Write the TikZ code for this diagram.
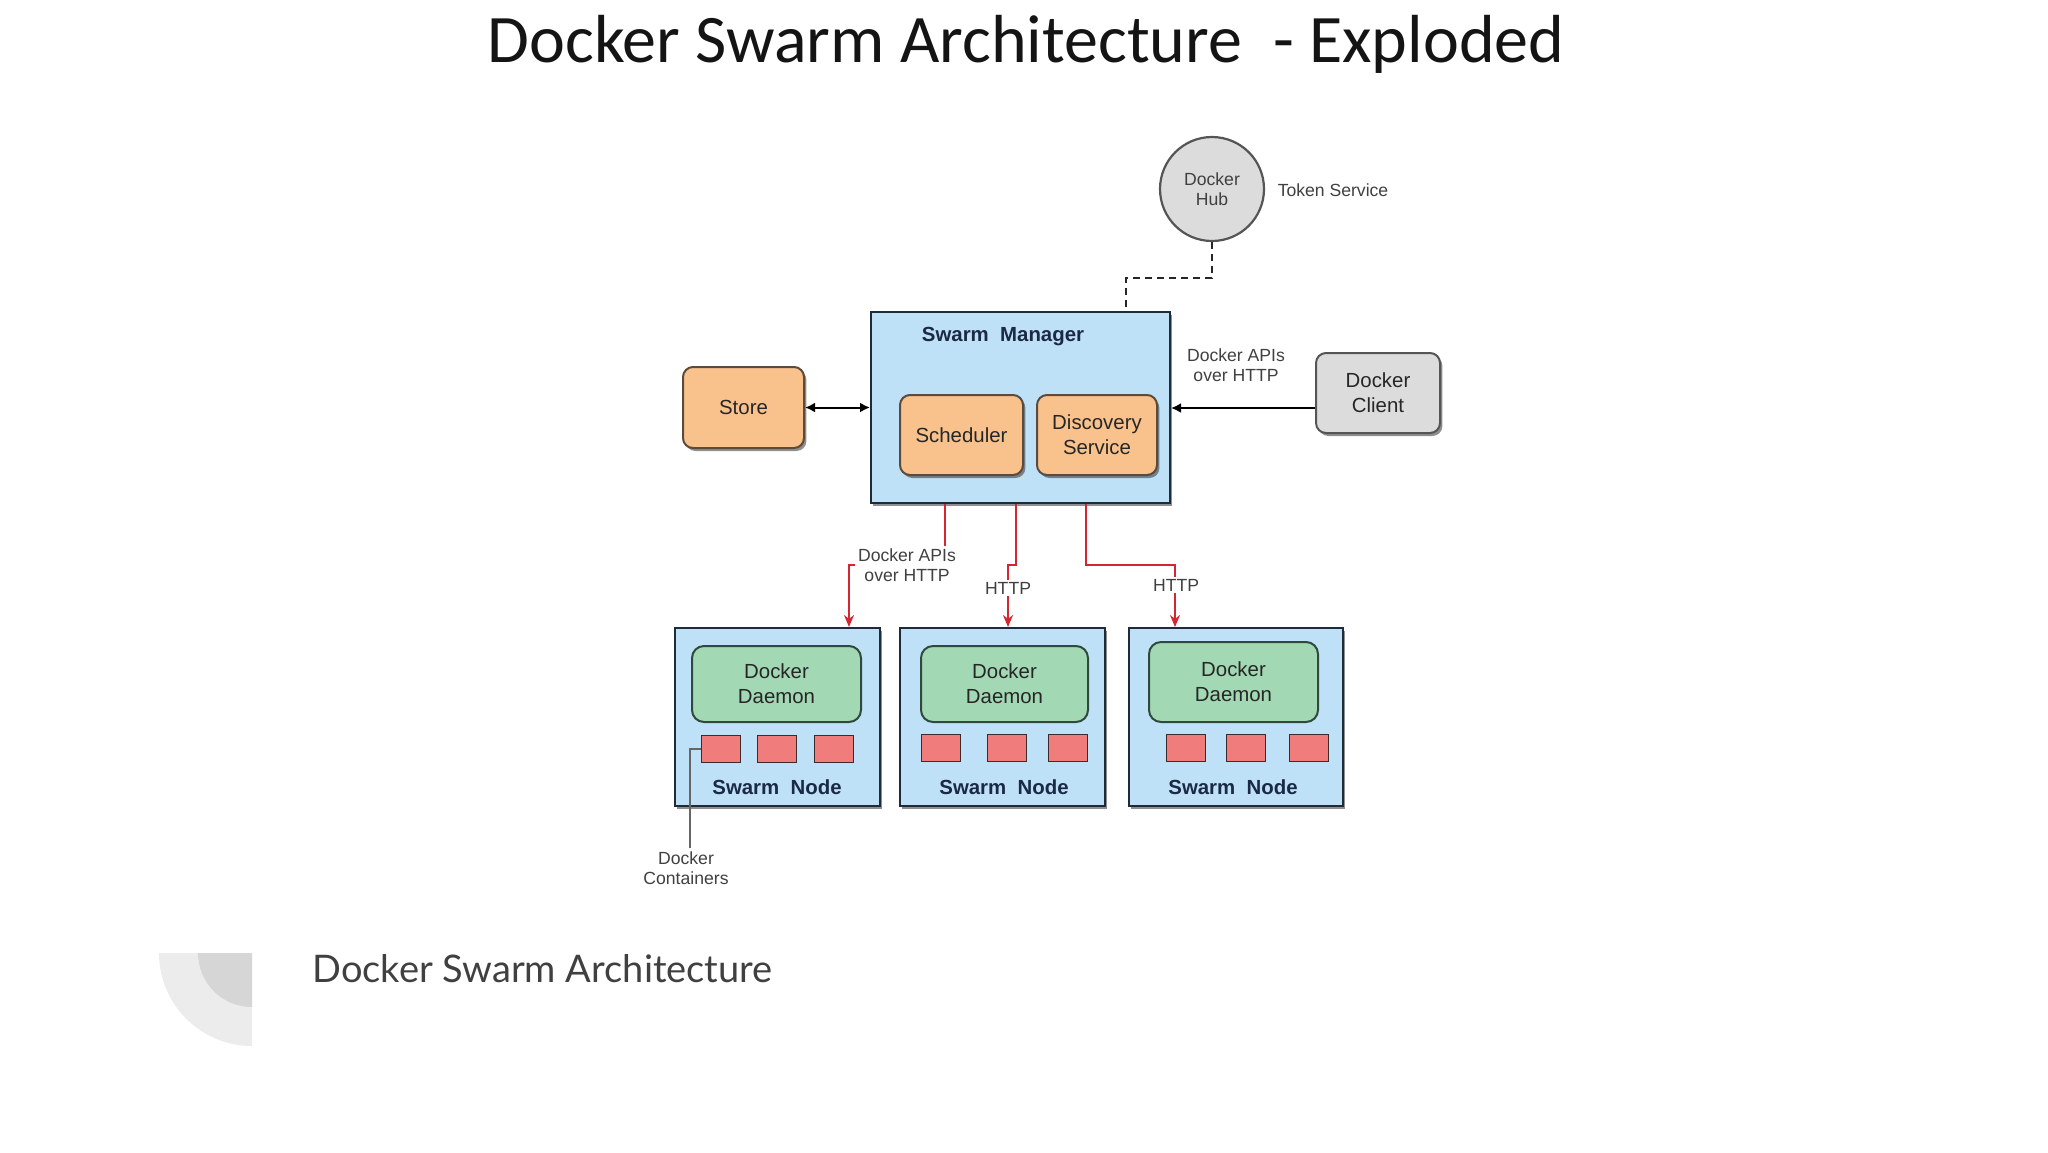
\documentclass[tikz,border=0pt]{standalone}
\usepackage{fontspec}
\setmainfont{Liberation Sans}
\newfontfamily\titlefont{Carlito}
\newfontfamily\capfont{Lato}
\usetikzlibrary{arrows.meta,shadows,calc}
\definecolor{skyfill}{HTML}{BFE1F7}
\definecolor{navyb}{HTML}{1E2B38}
\definecolor{navytxt}{HTML}{1B2A44}
\definecolor{orangef}{HTML}{F9C28D}
\definecolor{brownb}{HTML}{5C4A3A}
\definecolor{greenf}{HTML}{A3D8B4}
\definecolor{greenb}{HTML}{2F4A3C}
\definecolor{redf}{HTML}{F07C7C}
\definecolor{redb}{HTML}{3B2B2B}
\definecolor{greyf}{HTML}{DCDCDC}
\definecolor{greyb}{HTML}{555555}
\definecolor{redline}{HTML}{D42630}
\definecolor{capgray}{HTML}{404040}
\definecolor{decoouter}{HTML}{ECECEC}
\definecolor{decoinner}{HTML}{D6D6D6}
\begin{document}
\begin{tikzpicture}[x=0.5pt,y=-0.5pt,
  boxtext/.style={font=\fontsize{10.2}{12.5}\selectfont, text=black!85, align=center},
  lbl/.style={font=\fontsize{8.8}{10}\selectfont, text=black!75, align=center, inner sep=1.5pt},
  shad/.style={drop shadow={shadow xshift=1.2pt,shadow yshift=-1.5pt,fill=black!80,opacity=0.55}},
  bluebox/.style={draw=navyb, fill=skyfill, line width=1pt, inner sep=0pt, shad},
  orangebox/.style={rounded corners=5pt, draw=brownb, fill=orangef, line width=1pt, inner sep=0pt, boxtext, shad},
  greenbox/.style={rounded corners=6pt, draw=greenb, fill=greenf, line width=1pt, inner sep=0pt, boxtext, minimum height=38pt},
  greybox/.style={rounded corners=5pt, draw=greyb, fill=greyf, line width=1pt, inner sep=0pt, boxtext, shad},
  cont/.style={draw=redb, fill=redf, line width=0.9pt, minimum width=19.5pt, minimum height=13.5pt, inner sep=0pt},
  nodelbl/.style={font=\fontsize{10.2}{12.5}\selectfont\bfseries, text=navytxt, inner sep=0pt},
  redarrow/.style={draw=redline, line width=1pt, -{Stealth[length=6pt,width=5pt]}},
  blackarrow/.style={draw=black, line width=1pt},
  hubdash/.style={draw=black!85, line width=1pt, dash pattern=on 3.5pt off 2.5pt}
]
\useasboundingbox (0,0) rectangle (2048,1152);

% title
\node[anchor=base, font=\titlefont\fontsize{34}{36}\selectfont, text=black!92, inner sep=0pt] (title) at (1026,62) {Docker Swarm Architecture~ - Exploded};

% manager
\node[bluebox, minimum width=149.5pt, minimum height=95.5pt] (mgr) at (1020.5,407.5) {};
\node[nodelbl] (mgrlbl) at (1003,337) {Swarm~ Manager};
\node[orangebox, minimum width=61.5pt, minimum height=40pt] (sched) at (961.5,435) {Scheduler};
\node[orangebox, minimum width=60pt, minimum height=40pt] (disc) at (1097,435) {Discovery\\Service};

% store, client, hub
\node[orangebox, minimum width=60.5pt, minimum height=40.5pt] (store) at (743.5,407.5) {Store};
\node[greybox, minimum width=62pt, minimum height=40pt] (client) at (1378,393) {Docker\\Client};
\node[circle, draw=greyb, fill=greyf, line width=1.1pt, minimum size=52pt, inner sep=0pt, lbl] (hub) at (1212,189) {Docker\\Hub};
\node[lbl] (token) at (1333,190) {Token Service};
\node[lbl] (apis) at (1236,365) {Docker APIs\\over HTTP};

% swarm nodes
\node[bluebox, minimum width=102.5pt, minimum height=89pt] (n1) at (777.5,717) {};
\node[bluebox, minimum width=102.5pt, minimum height=89pt] (n2) at (1002.5,717) {};
\node[bluebox, minimum width=107pt, minimum height=89pt] (n3) at (1236,717) {};

\node[greenbox, minimum width=84.5pt] (d1) at (776.5,684) {Docker\\Daemon};
\node[greenbox, minimum width=83.5pt] (d2) at (1004.5,684) {Docker\\Daemon};
\node[greenbox, minimum width=84.5pt, minimum height=40pt] (d3) at (1233.5,682) {Docker\\Daemon};

\node[cont] (c11) at (721,749) {};
\node[cont] (c12) at (777,749) {};
\node[cont] (c13) at (834,749) {};
\node[cont] (c21) at (941,748) {};
\node[cont] (c22) at (1007,748) {};
\node[cont] (c23) at (1068,748) {};
\node[cont] (c31) at (1186,748) {};
\node[cont] (c32) at (1246,748) {};
\node[cont] (c33) at (1309,748) {};

\node[nodelbl] (s1) at (777,787) {Swarm~ Node};
\node[nodelbl] (s2) at (1004,787) {Swarm~ Node};
\node[nodelbl] (s3) at (1233,787) {Swarm~ Node};

% connectors
\draw[hubdash] (hub.south) -- ++(0,36) -| ([xshift=128pt]mgr.north west);
\draw[blackarrow, {Latex[length=5pt,width=5pt]}-{Latex[length=5pt,width=5pt]}] (store.east) -- (store.east -| mgr.west);
\coordinate (cw) at ($(client.west)+(0,15)$);
\draw[blackarrow, -{Latex[length=5pt,width=5pt]}] (cw) -- (cw -| mgr.east);

\draw[redarrow] ([xshift=37.5pt]mgr.south west) -- ++(0,61) -| ([xshift=-16pt]n1.north east);
\draw[redarrow] ([xshift=73pt]mgr.south west) -- ++(0,61) -| ([xshift=2.75pt]n2.north);
\draw[redarrow] ([xshift=108pt]mgr.south west) -- ++(0,61) -| ([xshift=23.5pt]n3.north west);

\node[lbl, fill=white] (l1) at (907,565) {Docker APIs\\over HTTP};
\node[lbl, fill=white, inner sep=1pt] (l2) at (1008,588) {HTTP};
\node[lbl, fill=white, inner sep=1pt] (l3) at (1176,585) {HTTP};

\node[lbl] (dc) at (686,868) {Docker\\Containers};
\draw[draw=black!60, line width=0.6pt] (c11.west) -| ([xshift=2pt]dc.north);

% caption decoration
\fill[decoouter] (252,953) -- (159,953) arc[start angle=180, end angle=90, radius=93] -- cycle;
\fill[decoinner] (252,953) -- (198,953) arc[start angle=180, end angle=90, radius=54] -- cycle;
\node[anchor=base west, font=\capfont\fontsize{19}{22}\selectfont, text=capgray, inner sep=0pt] (cap) at (312,982) {Docker Swarm Architecture};
\end{tikzpicture}
\end{document}
